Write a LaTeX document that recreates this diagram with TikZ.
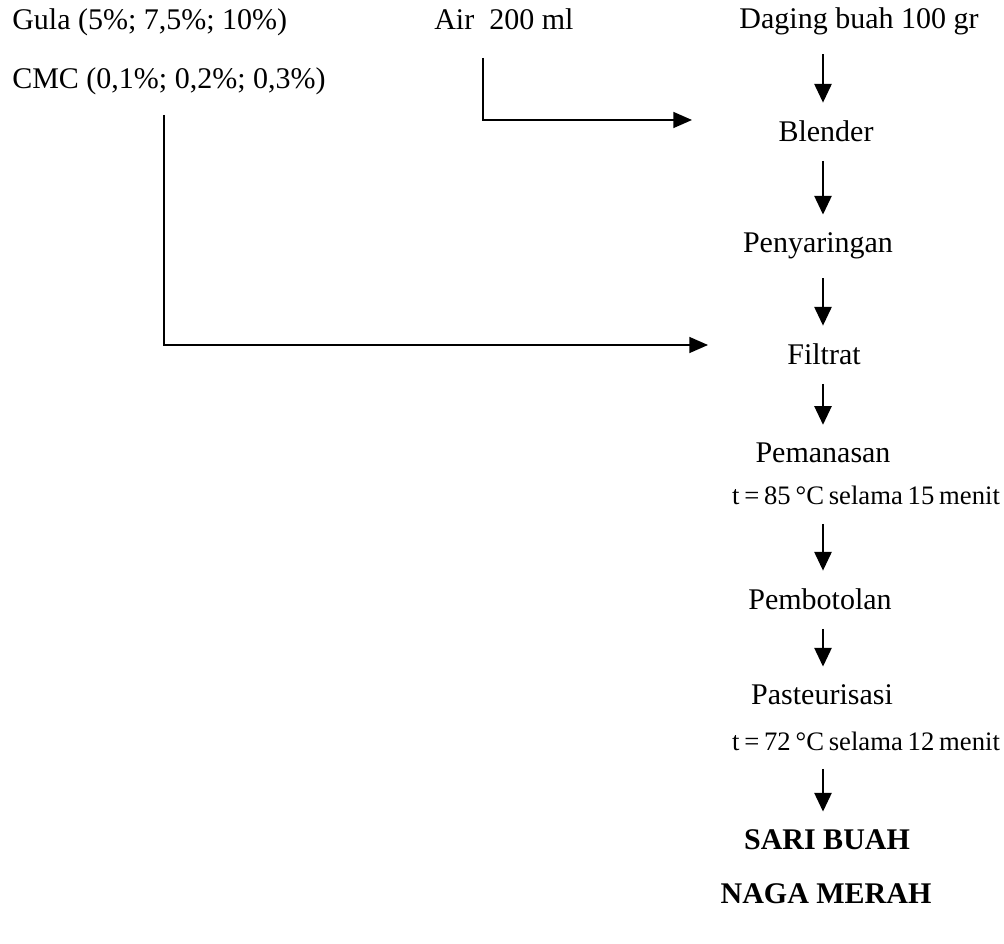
\documentclass[tikz,border=0pt]{standalone}
\usepackage{fontspec}
\setmainfont{Liberation Serif}
\usetikzlibrary{arrows.meta}

\newcommand{\ketfont}{\fontsize{20}{24}\selectfont\spaceskip 0.18em\relax}

\tikzset{
  txt/.style={inner sep=0.75pt, font=\fontsize{22.5}{27}\selectfont},
  ket/.style={inner sep=0.75pt, font=\ketfont},
  flow/.style={line width=1.1pt, shorten <=13pt, shorten >=13pt, -{Triangle[length=14pt,width=13pt]}},
  feed/.style={line width=1.1pt, -{Triangle[length=14pt,width=12pt]}},
}

\begin{document}
\begin{tikzpicture}[x=0.75pt,y=0.75pt,yscale=-1,xscale=1]
\useasboundingbox (0,0) rectangle (1004,944);

% Text Node
\draw (11,30) node [anchor=base west][txt] (gula) {Gula (5\%; 7,5\%; 10\%)};
% Text Node
\draw (11,89) node [anchor=base west][txt] (cmc) {CMC (0,1\%; 0,2\%; 0,3\%)};
% Text Node
\draw (433,30) node [anchor=base west][txt] (air) {Air\ \ 200 ml};
% Text Node
\draw (859,29) node [anchor=base][txt] (daging) {Daging buah 100 gr};
% Text Node
\draw (826,142) node [anchor=base][txt] (blender) {Blender};
% Text Node
\draw (818,253) node [anchor=base][txt] (saring) {Penyaringan};
% Text Node
\draw (824,365) node [anchor=base][txt] (filtrat) {Filtrat};
% Text Node
\draw (823,463) node [anchor=base][txt] (panas) {Pemanasan};
% Text Node
\draw (866,505) node [anchor=base][ket] (panasket) {t = 85 °C selama 15 menit};
% Text Node
\draw (820,610) node [anchor=base][txt] (botol) {Pembotolan};
% Text Node
\draw (822,705) node [anchor=base][txt] (pasteur) {Pasteurisasi};
% Text Node
\draw (866,750) node [anchor=base][ket] (pasteurket) {t = 72 °C selama 12 menit};
% Text Node
\draw (827,850) node [anchor=base][txt] (sari) {\bfseries SARI BUAH};
% Text Node
\draw (826,903) node [anchor=base][txt] (naga) {\bfseries NAGA MERAH};

%Straight Lines: main flow
\draw [flow] (daging.south -| 823,0) -- (blender.north -| 823,0);
\draw [flow] (blender.south -| 823,0) -- (saring.north -| 823,0);
\draw [flow] (saring.south -| 823,0) -- (filtrat.north -| 823,0);
\draw [flow] (filtrat.south -| 823,0) -- (panas.north -| 823,0);
\draw [flow] (panasket.south -| 823,0) -- (botol.north -| 823,0);
\draw [flow] (botol.south -| 823,0) -- (pasteur.north -| 823,0);
\draw [flow] (pasteurket.south -| 823,0) -- (sari.north -| 823,0);

%Straight Lines: side inputs
\coordinate (airdrop) at (483,58);
\coordinate (blendin) at (692,120);
\draw [feed] (airdrop) |- (blendin);
\coordinate (cmcdrop) at (164,115);
\coordinate (filtin) at (708,345);
\draw [feed] (cmcdrop) |- (filtin);

\end{tikzpicture}
\end{document}
